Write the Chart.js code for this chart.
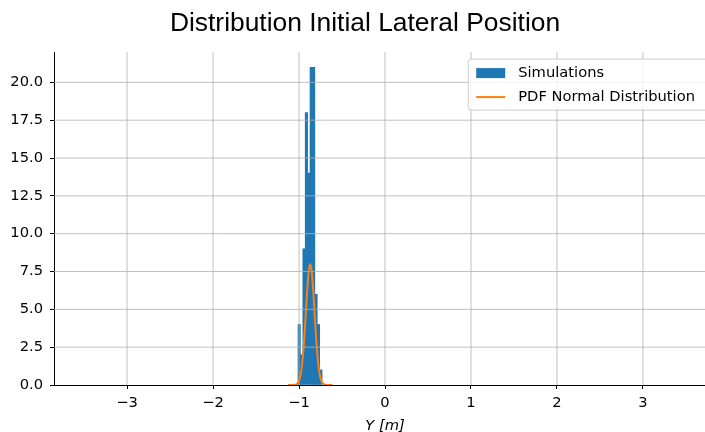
<!DOCTYPE html>
<html>
<head>
<meta charset="utf-8">
<script src="https://cdn.jsdelivr.net/npm/chart.js@4.4.1/dist/chart.umd.min.js"></script>
<style>
  html, body { margin: 0; padding: 0; background: #fff; overflow: hidden; }
  #clip { width: 705px; height: 432px; overflow: hidden; position: relative; }
  #wrap { width: 730px; height: 435px; position: absolute; left: 0; top: 0; }
</style>
</head>
<body>
<div id="clip"><div id="wrap"><canvas id="chart"></canvas></div></div>
<script>
// histogram bins (centres in m) and counts
const binCenters = [-0.998, -0.970, -0.942, -0.914, -0.886, -0.858, -0.830, -0.802, -0.774, -0.746];
const binCounts = [4, 2, 9, 18, 14, 21, 21, 6, 4, 1];

// normal pdf curve
const pdfX = [-1.13, -1.11, -1.09, -1.07, -1.05, -1.03, -1.01, -0.99, -0.97, -0.95, -0.93, -0.91, -0.89,
  -0.87, -0.85, -0.83, -0.81, -0.79, -0.77, -0.75, -0.73, -0.71, -0.69, -0.67, -0.65, -0.63, -0.61];
const pdfY = [0, 0, 0, 0, 0.01, 0.05, 0.16, 0.45, 1.08, 2.22, 3.89, 5.81, 7.38,
  8.0, 7.38, 5.81, 3.89, 2.22, 1.08, 0.45, 0.16, 0.05, 0.01, 0, 0, 0, 0];

const xTicks = [-3, -2, -1, 0, 1, 2, 3];
const yTicks = [0, 2.5, 5, 7.5, 10, 12.5, 15, 17.5, 20];

const tickFont = { family: 'DejaVu Sans', size: 14.7 };

// title is centred on the figure, which is a bit wider than the picture
const shiftTitle = {
  id: 'shiftTitle',
  afterLayout(chart) {
    if (chart.titleBlock) chart.titleBlock.left += 14;
  }
};

// grid goes over the bars but under the pdf line (matplotlib axisbelow='line')
const gridOverBars = {
  id: 'gridOverBars',
  afterDatasetDraw(chart, args) {
    if (args.meta.type !== 'bar') return;
    const { ctx, chartArea: a, scales: { x, y } } = chart;
    ctx.save();
    ctx.strokeStyle = '#b0b0b0';
    ctx.lineWidth = 0.8;
    x.ticks.forEach(t => {
      const px = x.getPixelForValue(t.value);
      ctx.beginPath(); ctx.moveTo(px, a.top); ctx.lineTo(px, a.bottom); ctx.stroke();
    });
    y.ticks.forEach(t => {
      if (t.value === 0) return;
      const py = y.getPixelForValue(t.value);
      ctx.beginPath(); ctx.moveTo(a.left, py); ctx.lineTo(a.right, py); ctx.stroke();
    });
    ctx.restore();
  }
};

// legend box in the upper right of the axes
const boxLegend = {
  id: 'boxLegend',
  afterDraw(chart) {
    const { ctx, chartArea: a } = chart;
    const ds = chart.data.datasets;
    const items = [ds[1], ds[0]];
    ctx.save();
    ctx.font = '14.7px "DejaVu Sans"';
    const tw = Math.max(...items.map(d => ctx.measureText(d.label).width));
    const w = 50 + tw + 14;
    const h = 51;
    const bx = a.right - 7 - w;
    const by = a.top + 7;
    ctx.beginPath();
    ctx.roundRect(bx, by, w, h, 3);
    ctx.fillStyle = 'rgba(255,255,255,0.8)';
    ctx.fill();
    ctx.strokeStyle = '#cccccc';
    ctx.lineWidth = 1;
    ctx.stroke();
    items.forEach((d, i) => {
      const cy = by + 14 + i * 24;
      if (d.type === 'line') {
        ctx.strokeStyle = d.borderColor;
        ctx.lineWidth = 2;
        ctx.beginPath(); ctx.moveTo(bx + 8, cy); ctx.lineTo(bx + 37, cy); ctx.stroke();
      } else {
        ctx.fillStyle = d.backgroundColor;
        ctx.fillRect(bx + 8, cy - 5, 29, 10);
      }
      ctx.fillStyle = '#000';
      ctx.textBaseline = 'middle';
      ctx.textAlign = 'left';
      ctx.fillText(d.label, bx + 50, cy);
    });
    ctx.restore();
  }
};

new Chart(document.getElementById('chart'), {
  type: 'bar',
  data: {
    datasets: [
      {
        type: 'line',
        label: 'PDF Normal Distribution',
        data: pdfX.map((x, i) => ({ x: x, y: pdfY[i] })),
        borderColor: '#ff7f0e',
        borderWidth: 2,
        pointRadius: 0,
        cubicInterpolationMode: 'monotone',
        fill: false
      },
      {
        type: 'bar',
        label: 'Simulations',
        data: binCenters.map((x, i) => ({ x: x, y: binCounts[i] })),
        backgroundColor: '#1f77b4',
        borderWidth: 0,
        barPercentage: 1,
        categoryPercentage: 1
      }
    ]
  },
  options: {
    responsive: true,
    maintainAspectRatio: false,
    animation: false,
    layout: { padding: { left: 0, right: 14, top: 0, bottom: 0 } },
    plugins: {
      legend: { display: false },
      tooltip: { enabled: false },
      title: {
        display: true,
        text: 'Distribution Initial Lateral Position',
        color: '#000',
        font: { family: 'Liberation Sans', size: 26.4, weight: 'normal' },
        padding: { top: 8.2, bottom: 12.2 }
      }
    },
    scales: {
      x: {
        type: 'linear',
        min: -3.85,
        max: 3.85,
        offset: false,
        afterBuildTicks: s => { s.ticks = xTicks.map(v => ({ value: v })); },
        afterFit: s => { s.height = 50; },
        ticks: {
          color: '#000',
          font: tickFont,
          padding: 5.2,
          maxRotation: 0,
          callback: v => (v < 0 ? '\u2212' + Math.abs(v) : String(v))
        },
        grid: { drawOnChartArea: false, offset: false, tickLength: 4, tickColor: '#000', tickWidth: 1 },
        border: { display: true, color: '#000', width: 1 },
        title: {
          display: true,
          text: 'Y [m]',
          color: '#000',
          font: { family: 'DejaVu Sans', size: 14.7, style: 'italic' },
          padding: { top: 4, bottom: 0 }
        }
      },
      y: {
        type: 'linear',
        min: 0,
        max: 22,
        afterBuildTicks: s => { s.ticks = yTicks.map(v => ({ value: v })); },
        afterFit: s => { s.width = 54; },
        ticks: {
          color: '#000',
          font: tickFont,
          padding: 7,
          callback: v => v.toFixed(1)
        },
        grid: { drawOnChartArea: false, tickLength: 4, tickColor: '#000', tickWidth: 1 },
        border: { display: true, color: '#000', width: 1 }
      }
    }
  },
  plugins: [shiftTitle, gridOverBars, boxLegend]
});
</script>
</body>
</html>
